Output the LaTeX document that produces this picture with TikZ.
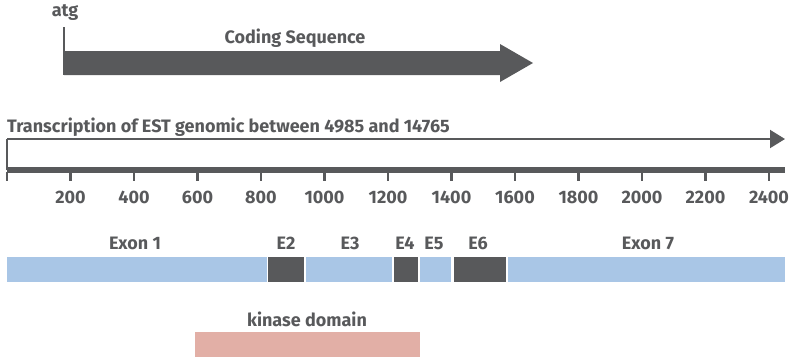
\documentclass[tikz,border=0pt]{standalone}
\usepackage{fontspec}
\setmainfont{Fira Sans}
\usetikzlibrary{arrows.meta}
\definecolor{darkgrey}{HTML}{58595B}
\definecolor{exonblue}{HTML}{A9C6E6}
\definecolor{kinasepink}{HTML}{E2AFA6}
\tikzset{
  lbl/.style={text=darkgrey, font=\bfseries\fontsize{18}{20}\selectfont, inner sep=0pt},
  exonlight/.style={fill=exonblue, draw=none},
  exondark/.style={fill=darkgrey, draw=none},
  tick/.style={draw=darkgrey, line width=2.2pt},
}
\begin{document}
\begin{tikzpicture}[x=1pt,y=-1pt]
\useasboundingbox (0,0) rectangle (795,357);

% coding sequence arrow
\coordinate (cdsTop) at (64,27);
\coordinate (cdsBase) at (64,75);
\draw[darkgrey, line width=2pt] (cdsTop) -- (cdsBase);
\fill[darkgrey] (64,51) -- (500,51) -- (500,44) -- (533,63) -- (500,82) -- (500,75) -- (64,75) -- cycle;
\node[lbl] (atg) at (65,13) {atg};
\node[lbl] (cds) at (295,38) {Coding Sequence};

% transcription arrow
\node[lbl, anchor=west] (tr) at (7,127) {Transcription of EST genomic between 4985 and 14765};
\coordinate (trStart) at (7,139);
\coordinate (trEnd) at (785,139);
\coordinate (trFoot) at (7,170);
\draw[darkgrey, line width=2pt] (trFoot) -- (trStart);
\draw[darkgrey, line width=2pt, -{Triangle[length=15pt,width=18pt]}] (trStart) -- (trEnd);

% scale axis
\fill[darkgrey] (7,167) rectangle (785,173);
\foreach \v in {0,200,...,2400} {
  \pgfmathsetmacro{\xx}{7+\v*0.3175}
  \draw[tick] (\xx,172) -- (\xx,181);
}
\foreach \v in {200,400,...,2400} {
  \pgfmathsetmacro{\xx}{7+\v*0.3175}
  \node[lbl] at (\xx,197) {\v};
}

% exons
\fill[exonlight] (7,257) rectangle (267,282);
\fill[exondark]  (268,257) rectangle (304,282);
\fill[exonlight] (306,257) rectangle (392,282);
\fill[exondark]  (394,257) rectangle (418,282);
\fill[exonlight] (420,257) rectangle (451,282);
\fill[exondark]  (454,257) rectangle (506,282);
\fill[exonlight] (508,257) rectangle (785,282);
\node[lbl] (e1) at (135,243) {Exon 1};
\node[lbl] (e2) at (286,243) {E2};
\node[lbl] (e3) at (350,243) {E3};
\node[lbl] (e4) at (405,243) {E4};
\node[lbl] (e5) at (434,243) {E5};
\node[lbl] (e6) at (478,243) {E6};
\node[lbl] (e7) at (648,243) {Exon 7};

% kinase domain
\fill[kinasepink] (195,332) rectangle (420,357);
\node[lbl] (kin) at (307,319) {kinase domain};
\end{tikzpicture}
\end{document}
